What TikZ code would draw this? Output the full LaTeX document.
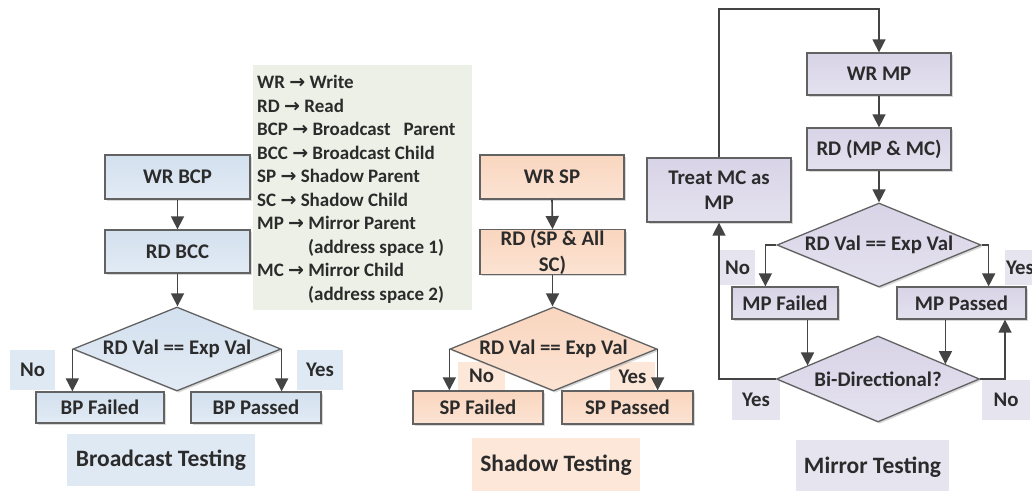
\documentclass[tikz,border=0pt]{standalone}
\usepackage{fontspec}
\setmainfont{Carlito}
\newfontfamily\symfont{DejaVu Sans}
\usetikzlibrary{shapes.geometric,arrows.meta,shadows,calc}

\definecolor{txt}{HTML}{2B2B2B}
\definecolor{edge}{HTML}{626262}
\definecolor{arrline}{HTML}{444444}
\definecolor{bctop}{HTML}{D3E0EE}
\definecolor{bcbot}{HTML}{E2EBF5}
\definecolor{bctag}{HTML}{DFE9F4}
\definecolor{shtop}{HTML}{F9D6BF}
\definecolor{shbot}{HTML}{FCE3D3}
\definecolor{shtag}{HTML}{FCE7D9}
\definecolor{mrtop}{HTML}{D8D4E7}
\definecolor{mrbot}{HTML}{E4E1EF}
\definecolor{mrtag}{HTML}{E6E4EF}
\definecolor{legbg}{HTML}{EDF0E6}

\newcommand\bxfont{\bfseries\fontsize{20.8}{24}\selectfont}
\newcommand\lgfont{\bfseries\fontsize{19}{23.5}\selectfont}
\newcommand\ttlfont{\bfseries\fontsize{23.5}{28}\selectfont}
\newcommand\rarr{{\symfont\bfseries\char"2192}}

\begin{document}
\begin{tikzpicture}[x=1pt,y=-1pt,
  every node/.style={text=txt},
  shape base/.style={draw=edge, line width=1.3pt, inner sep=0pt, align=center,
    font=\bxfont,
    drop shadow={shadow xshift=1.8pt, shadow yshift=-1.8pt, opacity=0.3}},
  bcbox/.style={shape base, rectangle, top color=bctop, bottom color=bcbot},
  shbox/.style={shape base, rectangle, top color=shtop, bottom color=shbot},
  mrbox/.style={shape base, rectangle, top color=mrtop, bottom color=mrbot},
  bcdia/.style={shape base, diamond, aspect=2.48, top color=bctop, bottom color=bcbot},
  shdia/.style={shape base, diamond, aspect=2.48, top color=shtop, bottom color=shbot},
  mrdia/.style={shape base, diamond, aspect=2.4, top color=mrtop, bottom color=mrbot},
  tag/.style={rectangle, inner sep=0pt, font=\bxfont},
  title/.style={rectangle, inner sep=0pt, font=\ttlfont},
  legline/.style={anchor=base west, inner sep=0pt, font=\lgfont},
  arr/.style={draw=arrline, line width=1.6pt,
    -{Triangle[width=13pt,length=13pt]}}
]
\clip (0,0) rectangle (1032,490);
\fill[white] (0,0) rectangle (1032,490);

% ---------- legend ----------
\node[fill=legbg, minimum width=219, minimum height=245, inner sep=0pt] (legend) at (362.5,187.5) {};
\node[legline] (lg1) at (257,88.5) {WR \rarr{} Write};
\node[legline] (lg2) at (257,112) {RD \rarr{} Read};
\node[legline] (lg3) at (257,135.5) {BCP \rarr{} Broadcast~~~Parent};
\node[legline] (lg4) at (257,159) {BCC \rarr{} Broadcast Child};
\node[legline] (lg5) at (257,182.5) {SP \rarr{} Shadow Parent};
\node[legline] (lg6) at (257,206) {SC \rarr{} Shadow Child};
\node[legline] (lg7) at (257,229.5) {MP \rarr{} Mirror Parent};
\node[legline] (lg8) at (308,253) {(address space 1)};
\node[legline] (lg9) at (257,276.5) {MC \rarr{} Mirror Child};
\node[legline] (lg10) at (308,300) {(address space 2)};

% ---------- broadcast testing ----------
\node[tag, fill=bctag, minimum width=45, minimum height=40] (bcno) at (32.5,370) {No};
\node[tag, fill=bctag, minimum width=46, minimum height=40] (bcyes) at (320,370) {Yes};
\node[title, fill=bctag, minimum width=188, minimum height=52] (bctitle) at (161,460) {Broadcast Testing};

\node[bcbox, minimum width=145, minimum height=44] (wrbcp) at (177.5,177) {WR BCP};
\node[bcbox, minimum width=145, minimum height=43] (rdbcc) at (177.5,251.5) {RD BCC};
\node[bcdia, minimum width=208, minimum height=84] (bcdec) at (177,349) {RD Val == Exp Val};
\node[bcbox, minimum width=128, minimum height=31] (bpf) at (100,407.5) {BP Failed};
\node[bcbox, minimum width=130, minimum height=31] (bpp) at (256,407.5) {BP Passed};

\draw[arr] (wrbcp.south) -- (rdbcc.north);
\draw[arr] (rdbcc.south) -- (rdbcc.south |- bcdec.north);
\draw[arr] (bcdec.west) -- (bcdec.west |- bpf.north);
\draw[arr] (bcdec.east) -- (bcdec.east |- bpp.north);

% ---------- shadow testing ----------
\node[tag, fill=shtag, minimum width=47, minimum height=28] (shno) at (481.5,376) {No};
\node[tag, fill=shtag, minimum width=45, minimum height=29] (shyes) at (632.5,376.5) {Yes};
\node[title, fill=shtag, minimum width=168, minimum height=54] (shtitle) at (556,465) {Shadow Testing};

\node[shbox, minimum width=144, minimum height=44] (wrsp) at (552,177) {WR SP};
\node[shbox, minimum width=145, minimum height=44, font=\bfseries\fontsize{20.8}{26}\selectfont] (rdsp) at (552.5,252) {RD (SP \& All\\SC)};
\node[shdia, minimum width=207, minimum height=84] (shdec) at (553.5,349) {RD Val == Exp Val};
\node[shbox, minimum width=130, minimum height=33] (spf) at (478,407.5) {SP Failed};
\node[shbox, minimum width=131, minimum height=33] (spp) at (627.5,407.5) {SP Passed};

\draw[arr] (wrsp.south) -- (rdsp.south |- rdsp.north);
\draw[arr] (rdsp.south) -- (rdsp.south |- shdec.north);
\draw[arr] (shdec.west) -- (shdec.west |- spf.north);
\draw[arr] (shdec.east) -- (shdec.east |- spp.north);

% ---------- mirror testing ----------
\node[tag, fill=mrtag, minimum width=35, minimum height=35] (mrno1) at (737.5,267.5) {No};
\node[tag, fill=mrtag, minimum width=30, minimum height=35] (mryes1) at (1020,267.5) {Yes};
\node[tag, fill=mrtag, minimum width=48, minimum height=40] (mryes2) at (756,400) {Yes};
\node[tag, fill=mrtag, minimum width=48, minimum height=40] (mrno2) at (1006,400) {No};
\node[title, fill=mrtag, minimum width=153, minimum height=54] (mrtitle) at (872.5,467) {Mirror Testing};

\node[mrbox, minimum width=144, minimum height=42] (wrmp) at (879,74) {WR MP};
\node[mrbox, minimum width=144, minimum height=42] (rdmp) at (879,149) {RD (MP \& MC)};
\node[mrbox, minimum width=144, minimum height=64, font=\bfseries\fontsize{20.8}{25}\selectfont] (treat) at (719,190) {Treat MC as\\MP};
\node[mrdia, minimum width=204, minimum height=84] (mdec) at (879,245) {RD Val == Exp Val};
\node[mrbox, minimum width=106, minimum height=32] (mpf) at (785,303) {MP Failed};
\node[mrbox, minimum width=129, minimum height=32] (mpp) at (961.5,303) {MP Passed};
\node[mrdia, minimum width=203, minimum height=86] (bidir) at (878,379) {Bi-Directional?};

\coordinate (looptop) at (800,9);
\coordinate (mnoL) at ([xshift=-11pt]mdec.west);
\coordinate (myesR) at ([xshift=7pt]mdec.east);
\coordinate (bdl) at ($(bidir.north)!0.69!(bidir.west)$);
\coordinate (bdr) at ($(bidir.north)!0.66!(bidir.east)$);
\coordinate (bdno) at ([xshift=43.5pt]mpp.south);

\draw[arr] (treat.north) |- (looptop) -| (wrmp.north);
\draw[arr] (wrmp.south) -- (rdmp.north);
\draw[arr] (rdmp.south) -- (mdec.north);
\draw[arr] (mdec.west) -- (mnoL) -- (mnoL |- mpf.north);
\draw[arr] (mdec.east) -- (myesR) -- (myesR |- mpp.north);
\draw[arr] (mpf.south -| bdl) -- (bdl);
\draw[arr] (mpp.south -| bdr) -- (bdr);
\draw[arr] (bidir.east) -| (bdno);
\draw[arr] (bidir.west) -| (treat.south);
\end{tikzpicture}
\end{document}
